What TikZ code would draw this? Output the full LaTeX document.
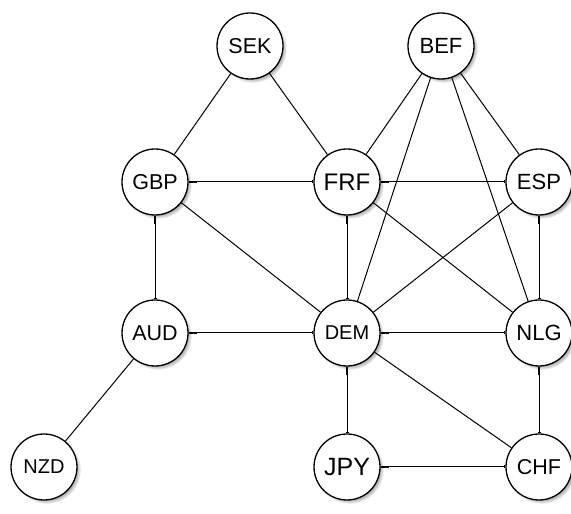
\documentclass[tikz,border=0pt]{standalone}
\usepackage{fontspec}
\setmainfont{Liberation Sans}
\usetikzlibrary{arrows.meta,shadows}
\begin{document}
\begin{tikzpicture}[x=1pt,y=1pt,
  cur/.style={circle,draw,line width=1.3pt,fill=white,minimum size=66pt,inner sep=0pt,
    circular drop shadow={shadow xshift=2.5pt,shadow yshift=-2.5pt,shadow scale=1.04,opacity=0.7}},
  link/.style={line width=1pt},
  olink/.style={line width=1pt,{Rectangle[length=8pt,width=2.2pt]}-{Bar[width=3pt,line width=1pt]}}]
\useasboundingbox (0,0) rectangle (571,514);
\node[cur,font=\fontsize{21.5}{22}\selectfont] (SEK) at (250,468) {SEK};
\node[cur,font=\fontsize{22}{22}\selectfont] (BEF) at (441,468) {BEF};
\node[cur,font=\fontsize{21.5}{22}\selectfont] (GBP) at (155,332) {GBP};
\node[cur,font=\fontsize{24}{24}\selectfont] (FRF) at (347,332) {FRF};
\node[cur,font=\fontsize{22}{22}\selectfont] (ESP) at (539,332) {ESP};
\node[cur,font=\fontsize{21.5}{22}\selectfont] (AUD) at (155,181) {AUD};
\node[cur,font=\fontsize{20}{20}\selectfont] (DEM) at (347,181) {DEM};
\node[cur,font=\fontsize{22}{22}\selectfont] (NLG) at (539,181) {NLG};
\node[cur,font=\fontsize{20}{20}\selectfont] (NZD) at (44,47) {NZD};
\node[cur,font=\fontsize{25}{25}\selectfont] (JPY) at (347,47) {JPY};
\node[cur,font=\fontsize{21.5}{22}\selectfont] (CHF) at (539,47) {CHF};
% diagonal links
\draw[link] (SEK) -- (GBP);
\draw[link] (SEK) -- (FRF);
\draw[link] (BEF) -- (FRF);
\draw[link] (BEF) -- (DEM);
\draw[link] (BEF) -- (NLG);
\draw[link] (BEF) -- (ESP);
\draw[link] (GBP) -- (DEM);
\draw[link] (FRF) -- (NLG);
\draw[link] (ESP) -- (DEM);
\draw[link] (AUD) -- (NZD);
\draw[link] (DEM) -- (CHF);
% orthogonal links
\draw[olink] (GBP) -- (FRF);
\draw[olink] (FRF) -- (ESP);
\draw[olink] (AUD) -- (DEM);
\draw[olink] (DEM) -- (NLG);
\draw[olink] (JPY) -- (CHF);
\draw[olink] (GBP) -- (AUD);
\draw[olink] (FRF) -- (DEM);
\draw[olink] (ESP) -- (NLG);
\draw[olink] (DEM) -- (JPY);
\draw[olink] (NLG) -- (CHF);
\end{tikzpicture}
\end{document}
